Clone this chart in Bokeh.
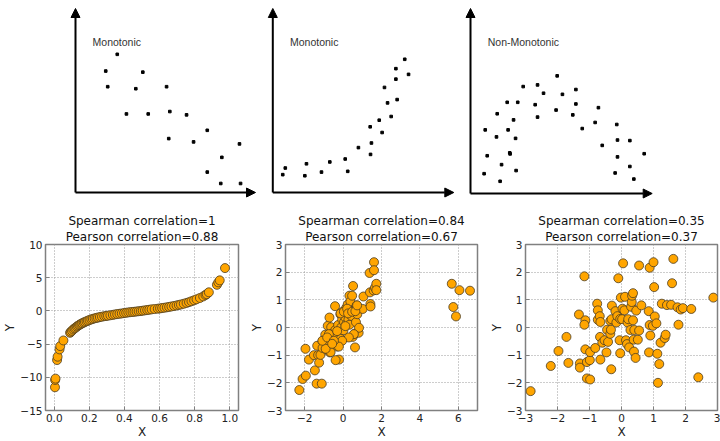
from bokeh.plotting import figure
from bokeh.layouts import column, row
from bokeh.models import Range1d, Arrow, NormalHead, Title, FixedTicker, CustomJSTickFormatter
from bokeh.embed import file_html
from bokeh.resources import INLINE
from bokeh.core.properties import value

# ---------------- top row data (arbitrary units, axes run 0..10) ----------------
dec_x = [2.32, 1.68, 3.74, 1.79, 3.35, 5.06, 2.83, 4.04, 5.24, 6.17, 7.32, 5.18, 6.56, 9.11, 8.13, 7.32, 8.07, 9.17]
dec_y = [7.51, 6.60, 6.54, 5.75, 5.64, 5.75, 4.27, 4.27, 4.40, 4.22, 3.38, 2.93, 2.75, 2.64, 1.91, 1.11, 0.49, 0.49]

inc_x = [0.55, 0.69, 1.77, 1.86, 2.69, 3.15, 4.00, 4.14, 4.73, 5.40, 5.45, 5.38, 5.88, 6.04, 6.34, 6.54, 6.87, 6.17, 6.80, 6.80, 7.29, 7.50]
inc_y = [0.97, 1.33, 0.91, 1.56, 1.11, 1.66, 1.82, 1.15, 2.44, 2.07, 2.69, 3.57, 3.93, 3.26, 4.87, 4.13, 5.05, 5.71, 6.16, 6.73, 7.24, 6.42]

non_x = [0.81, 1.43, 1.47, 2.02, 2.60, 2.37, 2.07, 2.48, 2.16, 2.18, 0.92, 1.71, 0.75, 1.63, 2.51,
         2.90, 3.69, 4.02, 3.56, 3.69, 4.77, 5.06, 5.80, 5.80, 4.71, 5.63, 6.15, 7.04, 6.86, 7.25,
         8.05, 8.09, 8.77, 8.09, 7.96, 8.77, 8.99, 9.56]
non_y = [3.44, 3.06, 4.31, 4.93, 4.93, 3.98, 3.44, 2.98, 2.20, 2.14, 2.04, 1.56, 1.07, 0.66, 1.24,
         5.78, 5.87, 5.42, 4.80, 4.13, 6.36, 5.36, 5.62, 4.84, 4.51, 4.25, 3.51, 4.64, 3.84, 2.60,
         3.73, 2.89, 2.86, 1.98, 1.11, 1.46, 0.78, 2.15]

top_labels = ["Monotonic", "Monotonic", "Non-Monotonic"]

# ---------------- bottom row data ----------------
s1_x = [0.004, 0.005, 0.007, 0.016, 0.019, 0.030, 0.034, 0.052, 0.090, 0.094,
        0.101, 0.108, 0.115, 0.121, 0.128, 0.134, 0.141, 0.147, 0.154, 0.160,
        0.168, 0.175, 0.184, 0.192, 0.201, 0.211, 0.220, 0.230, 0.240, 0.249,
        0.260, 0.272, 0.285, 0.296, 0.306, 0.320, 0.334, 0.346, 0.359, 0.372,
        0.385, 0.398, 0.410, 0.422, 0.434, 0.446, 0.457, 0.469, 0.481, 0.493,
        0.504, 0.517, 0.530, 0.542, 0.555, 0.572, 0.590, 0.603, 0.615, 0.628,
        0.642, 0.655, 0.668, 0.683, 0.697, 0.710, 0.722, 0.738, 0.754, 0.768,
        0.782, 0.797, 0.811, 0.830, 0.849, 0.862, 0.869, 0.881, 0.927, 0.935,
        0.943, 0.973]
s1_y = [-11.5, -10.4, -10.2, -7.4, -6.9, -5.8, -5.3, -4.45, -3.3, -3.15,
        -3.0, -2.8, -2.65, -2.53, -2.38, -2.25, -2.14, -2.04, -1.94, -1.85,
        -1.75, -1.66, -1.56, -1.47, -1.37, -1.28, -1.2, -1.12, -1.06, -1.0,
        -0.93, -0.87, -0.8, -0.76, -0.72, -0.66, -0.6, -0.53, -0.48, -0.43,
        -0.38, -0.33, -0.28, -0.23, -0.19, -0.16, -0.13, -0.09, -0.05, -0.02,
        0.03, 0.08, 0.13, 0.18, 0.23, 0.28, 0.33, 0.38, 0.43, 0.48,
        0.54, 0.6, 0.67, 0.74, 0.82, 0.9, 0.97, 1.08, 1.2, 1.32,
        1.46, 1.6, 1.75, 1.95, 2.18, 2.4, 2.52, 2.8, 3.93, 4.3,
        4.6, 6.45]

s2_x = [-2.28, -2.11, -1.94, -1.96, -1.78, -1.52, -1.47, -1.38, -1.35, -1.30,
        -1.25, -1.18, -1.11, -1.07, -1.07, -0.93, -0.87, -0.80, -0.71, -0.73,
        -0.69, -0.62, -0.57, -0.52, -0.47, -0.42, -0.40, -0.36, -0.31, -0.26,
        -0.24, -0.21, -0.17, -0.14, -0.12, -0.09, -0.05, -0.02, 0.02, 0.05,
        0.09, 0.12, 0.16, 0.17, 0.21, 0.24, 0.28, 0.29, 0.33, 0.33,
        0.38, 0.43, 0.47, 0.50, 0.52, 0.57, 0.62, 0.62, 0.67, 0.71,
        0.74, 0.81, 0.83, 1.06, 1.02, 1.38, 1.40, 1.42, 1.43, 1.61,
        1.61, 1.59, 1.66, 1.73, 1.73, 5.66, 5.74, 5.88, 6.06, 6.61,
        -0.13, 0.04, 0.21, 0.26, 0.12, 0.47, 0.64, 0.73, 0.56, 0.30,
        -0.05, -0.22, -0.39, -0.65, -0.91, -1.08, -0.74, -0.83, -0.48, -0.31, -0.57]
s2_y = [-2.26, -1.86, -1.74, -0.77, -1.16, -1.0, -1.55, -2.03, -0.66, -1.0,
        -1.27, -0.99, -2.03, -0.5, -0.74, -0.26, -0.80, 0.06, 0.36, -0.55,
        -0.9, 0.01, -0.22, -0.43, -0.59, 0.77, -0.09, -0.27, -0.69, 0.09,
        -0.51, -1.16, -0.15, 0.48, -0.41, 0.01, 0.29, 0.57, -0.10, 0.19,
        0.48, 0.36, 0.71, 0.12, 0.52, 0.83, 0.29, 0.65, 1.15, 0.10,
        0.94, 0.42, 1.15, -0.34, 1.50, 0.62, -0.22, -0.72, 0.19, 0.80,
        0.48, -0.19, -0.01, 1.12, 0.67, 1.97, 1.27, 0.85, 0.76, 2.36,
        2.07, 1.34, 1.44, 1.58, 1.35, 1.58, 0.74, 0.40, 1.35, 1.33,
        0.51, 0.57, 0.68, 0.51, 0.05, 0.57, 0.59, 0.80, -0.24, -0.36,
        -0.48, -0.69, -1.18, -0.89, -0.77, -0.48, -0.24, -0.36, -0.48, -0.13, -0.59]

s3_x = [-2.84, -2.21, -1.97, -1.72, -1.66, -1.30, -1.30, -1.33, -1.16, -1.13,
        -1.16, -1.13, -1.08, -1.08, -0.99, -0.98, -0.98, -0.82, -0.76, -0.74,
        -0.74, -0.68, -0.66, -0.67, -0.66, -0.60, -0.53, -0.47, -0.45, -0.42,
        -0.35, -0.35, -0.33, -0.31, -0.30, -0.32, -0.19, -0.16, -0.13, -0.10,
        -0.06, -0.04, -0.04, -0.02, 0.02, 0.03, 0.05, 0.09, 0.11, 0.14,
        0.17, 0.19, 0.21, 0.24, 0.28, 0.30, 0.32, 0.33, 0.36, 0.36,
        0.38, 0.39, 0.40, 0.46, 0.44, 0.51, 0.55, 0.55, 0.62, 0.85,
        0.86, 0.88, 0.88, 0.90, 0.98, 1.00, 1.02, 1.04, 1.09, 1.12,
        1.14, 1.18, 1.22, 1.26, 1.35, 1.38, 1.42, 1.55, 1.58, 1.62,
        1.75, 1.78, 1.85, 1.92, 2.18, 2.40, 2.87]
s3_y = [-2.30, -1.39, -0.85, -0.34, -1.28, -1.30, -1.45, 0.47, 1.85, 0.26,
        0.10, -0.79, -1.25, -1.84, -1.18, -1.88, -0.89, -0.74, 0.86, 0.62,
        0.28, 0.41, 0.20, -0.34, -1.16, -0.55, -0.46, -0.90, -0.08, -0.52,
        0.24, -0.23, -0.08, 0.30, 0.79, -1.51, 0.59, 0.18, 0.41, 1.78,
        -0.46, -0.93, 0.31, 1.08, 0.30, 0.68, 2.32, 0.62, 1.11, -0.46,
        -0.60, 0.18, 0.30, -0.72, -0.09, 0.75, 0.92, 1.15, 1.24, 0.26,
        -0.44, -0.87, -0.09, 0.61, -1.10, -0.44, 2.24, -0.11, 0.80, 0.59,
        -0.90, 0.09, 2.16, -0.29, 0.06, 2.36, 1.46, 0.40, 0.15, -0.95,
        -2.00, -1.32, -0.55, 0.86, -0.38, -0.26, 0.81, 0.82, 1.60, 2.48,
        0.73, 0.10, 0.65, 0.70, 0.67, -1.80, 1.08]

spearman_titles = ["Spearman correlation=1", "Spearman correlation=0.84", "Spearman correlation=0.35"]
pearson_titles = ["Pearson correlation=0.88", "Pearson correlation=0.67", "Pearson correlation=0.37"]

x_ranges = [(-0.05, 1.05), (-3, 7), (-3, 3)]
y_ranges = [(-15, 10), (-3, 3), (-3, 3)]
x_ticks = [[0.0, 0.2, 0.4, 0.6, 0.8, 1.0], [-2, 0, 2, 4, 6], [-3, -2, -1, 0, 1, 2, 3]]
y_ticks = [[-15, -10, -5, 0, 5, 10], [-3, -2, -1, 0, 1, 2, 3], [-3, -2, -1, 0, 1, 2, 3]]
x_decimals = [1, 0, 0]

FONT = "DejaVu Sans"


def top_panel(W, H, ox, tx, oy, ty, xs, ys, label):
    sx = (tx - ox) / 10.0
    sy = (oy - ty) / 10.0
    p = figure(width=W, height=H,
               x_range=Range1d(-ox / sx, (W - ox) / sx),
               y_range=Range1d(-(H - oy) / sy, oy / sy),
               toolbar_location=None, output_backend="svg",
               x_axis_location=None, y_axis_location=None,
               min_border=0, outline_line_color=None)
    p.xgrid.visible = False
    p.ygrid.visible = False
    for (xe, ye) in [(10, 0), (0, 10)]:
        p.add_layout(Arrow(end=NormalHead(size=9, fill_color="black", line_color="black"),
                           x_start=0, y_start=0, x_end=xe, y_end=ye,
                           line_width=2, line_color="black"))
    p.scatter(xs, ys, size=2.6, color="black", marker="square")
    p.text(x=[0.95], y=[8.2], text=[label], text_font=value("Liberation Sans"),
           text_font_size="10.5px", text_baseline="middle", text_align="left",
           text_color="#333333")
    return p


def bottom_panel(i, W, H, bl, br, bt, bb, xs, ys):
    p = figure(width=W, height=H, x_range=Range1d(*x_ranges[i]), y_range=Range1d(*y_ranges[i]),
               toolbar_location=None, output_backend="svg",
               min_border_left=bl, min_border_right=br, min_border_top=bt, min_border_bottom=bb,
               title=spearman_titles[i])
    p.title.align = "center"
    p.title.text_font = FONT
    p.title.text_font_size = "12px"
    p.title.text_font_style = "normal"
    p.title.text_color = "#111111"
    p.title.text_line_height = 1.0
    p.title.standoff = 0
    p.add_layout(Title(text=pearson_titles[i], align="center", text_font=FONT,
                       text_font_size="12px", text_font_style="normal",
                       text_color="#111111", text_line_height=1.0, standoff=1), "above")
    p.outline_line_color = "#808080"
    p.outline_line_width = 1.5
    p.background_fill_color = "white"
    p.border_fill_color = "white"
    p.xaxis.ticker = FixedTicker(ticks=x_ticks[i])
    p.yaxis.ticker = FixedTicker(ticks=y_ticks[i])
    code = "const s = Math.abs(tick).toFixed(%d); return (tick < -1e-9 ? '\\u2212' : '') + s;"
    p.xaxis.formatter = CustomJSTickFormatter(code=code % x_decimals[i])
    p.yaxis.formatter = CustomJSTickFormatter(code=code % 0)
    for ax in (p.xaxis, p.yaxis):
        ax.axis_line_color = None
        ax.major_tick_in = 4
        ax.major_tick_out = 0
        ax.major_tick_line_color = "#808080"
        ax.minor_tick_line_color = None
        ax.major_label_text_font = FONT
        ax.major_label_text_font_size = "10.5px"
        ax.major_label_text_color = "#222222"
        ax.major_label_standoff = 3
        ax.axis_label_text_font = FONT
        ax.axis_label_text_font_size = "12px"
        ax.axis_label_text_font_style = "normal"
        ax.axis_label_text_color = "#222222"
        ax.axis_label_standoff = 0
    p.xaxis.axis_label = "X"
    p.yaxis.axis_label = "Y"
    p.grid.grid_line_color = "#9a9a9a"
    p.grid.grid_line_dash = "1 2"
    p.grid.grid_line_width = 1
    p.scatter(xs, ys, size=9, fill_color="#FFA500", line_color="#4a3c22", line_width=0.8)
    return p


TH = 205
t1 = top_panel(263, TH, 75, 255, 192, 8, dec_x, dec_y, top_labels[0])
t2 = top_panel(199, TH, 9.3, 190.3, 192, 8, inc_x, inc_y, top_labels[1])
t3 = top_panel(258, TH, 8, 189.7, 193, 8, non_x, non_y, top_labels[2])

BH = 236
b1 = bottom_panel(0, 240, BH, 45, 2, 39, 25, s1_x, s1_y)
b2 = bottom_panel(1, 240, BH, 45, 3, 39, 25, s2_x, s2_y)
b3 = bottom_panel(2, 240, BH, 45, 3, 39, 25, s3_x, s3_y)

layout = column(row(t1, t2, t3), row(b1, b2, b3))

open("out.html", "w").write(file_html(layout, INLINE))
